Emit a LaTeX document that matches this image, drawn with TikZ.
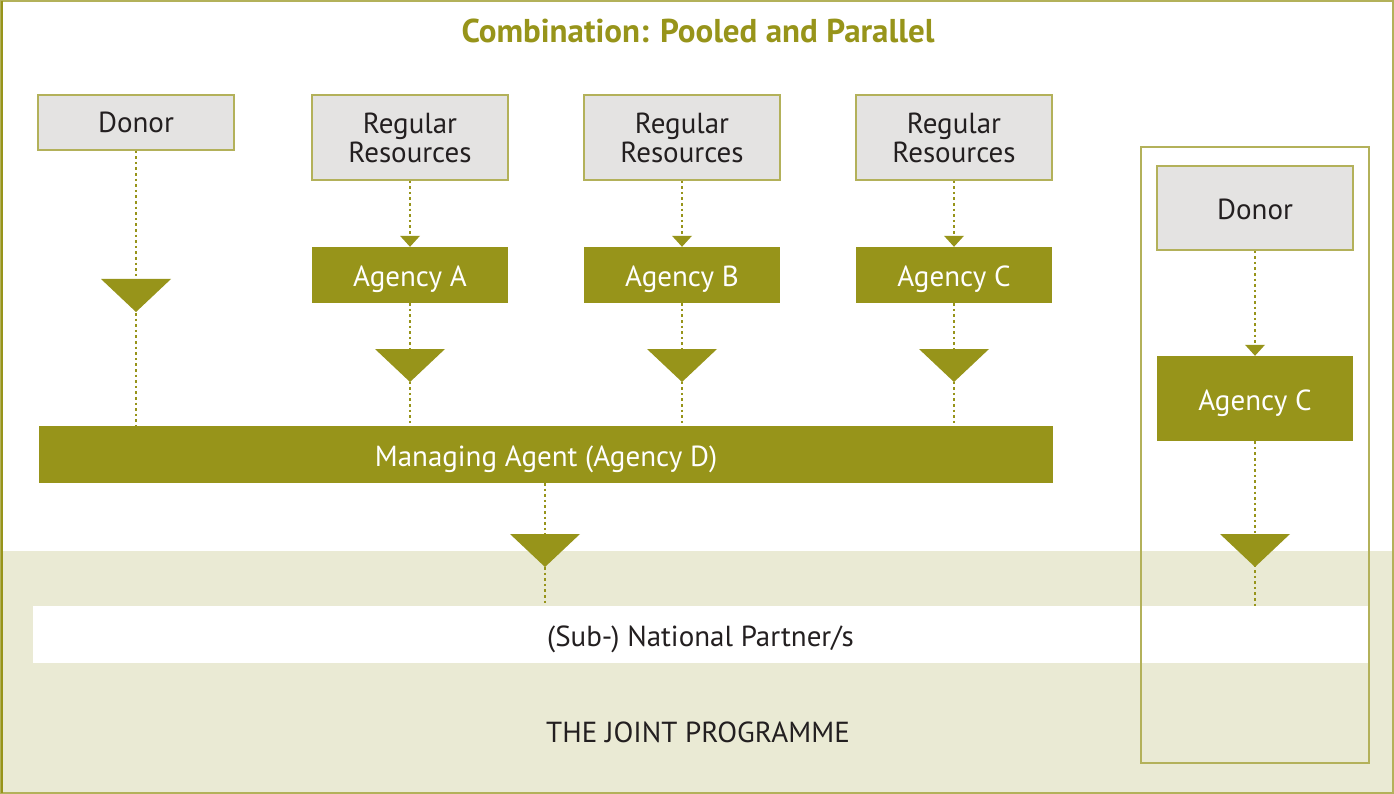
\documentclass[tikz,border=0pt]{standalone}
\usepackage{fontspec}
\setmainfont{PT Sans}
\usetikzlibrary{arrows.meta}
\definecolor{olive}{HTML}{97941A}
\definecolor{oliveline}{HTML}{B3B15A}
\definecolor{greybox}{HTML}{E4E3E2}
\definecolor{beige}{HTML}{EAEAD4}
\definecolor{txt}{HTML}{231F20}
\tikzset{
  bodyfont/.style={font=\fontsize{29}{29}\selectfont},
  oneline/.style={text height=20pt, text depth=0pt},
  lowline/.style={text height=24pt, text depth=0pt},
  greynode/.style={draw=oliveline, line width=1.2pt, fill=greybox, text=txt, inner sep=0pt, bodyfont},
  agencynode/.style={fill=olive, text=white, inner sep=0pt, bodyfont, lowline},
  dotline/.style={draw=olive, line width=2.6pt, line cap=butt, dash pattern=on 2.6pt off 3pt},
}
\begin{document}
\begin{tikzpicture}[x=1pt,y=-1pt]
\useasboundingbox (0,0) rectangle (1394,794);
% background bands
\fill[white] (0,0) rectangle (1394,794);
\fill[beige] (2,551) rectangle (1392,793);
\draw[oliveline, line width=1.5pt] (1,1) rectangle (1393,793);
\draw[olive, line width=1.5pt] (2,1) -- (2,793);
% title
\node[text=olive, font=\fontsize{33}{36}\selectfont\bfseries, text height=23pt, text depth=0pt] (title) at (698,31) {Combination: Pooled and Parallel};
% partner band
\node[fill=white, minimum width=1335, minimum height=57, inner sep=0pt, text=txt, bodyfont, text height=23pt, text depth=0pt] (partner) at (700.5,634.5) {(Sub-) National Partner/s};
\node[text=txt, bodyfont, oneline] (joint) at (698,732) {THE JOINT PROGRAMME};
% right frame
\draw[oliveline, line width=1.5pt] (1141,147) rectangle (1369,763);
% top boxes
\node[greynode, oneline, minimum width=196, minimum height=55] (donor) at (136,122.5) {Donor};
\node[greynode, align=center, minimum width=196, minimum height=85] (rra) at (410,137.5) {Regular\\Resources};
\node[greynode, align=center, minimum width=196, minimum height=85] (rrb) at (682,137.5) {Regular\\Resources};
\node[greynode, align=center, minimum width=196, minimum height=85] (rrc) at (954,137.5) {Regular\\Resources};
\node[agencynode, minimum width=196, minimum height=56] (aga) at (410,275) {Agency A};
\node[agencynode, minimum width=196, minimum height=56] (agb) at (682,275) {Agency B};
\node[agencynode, minimum width=196, minimum height=56] (agc) at (954,275) {Agency C};
\node[agencynode, minimum width=1014, minimum height=57] (mgr) at (546,454.5) {Managing Agent (Agency D)};
% right column
\node[greynode, lowline, minimum width=196, minimum height=84] (rdonor) at (1255,208) {Donor};
\node[agencynode, minimum width=196, minimum height=85] (ragc) at (1255,398.5) {Agency C};
% dotted connectors
\draw[dotline] (donor.south) -- (donor.south |- mgr.north);
\foreach \a/\b in {rra/aga, rrb/agb, rrc/agc}{
  \draw[dotline] (\a.south) -- ([yshift=11pt]\b.north);
  \fill[olive] ([xshift=-10pt,yshift=11pt]\b.north) -- ([xshift=10pt,yshift=11pt]\b.north) -- (\b.north) -- cycle;
  \draw[dotline] (\b.south) -- (\b.south |- mgr.north);
}
\draw[dotline] (rdonor.south) -- ([yshift=11pt]ragc.north);
\fill[olive] ([xshift=-10pt,yshift=11pt]ragc.north) -- ([xshift=10pt,yshift=11pt]ragc.north) -- (ragc.north) -- cycle;
\coordinate (mgrout) at (545,606);
\draw[dotline] (545,483) -- (mgrout);
\coordinate (ragcout) at (1255,606);
\draw[dotline] (ragc.south) -- (ragcout);
% big triangles
\foreach \x/\y in {136/279, 410/349, 682/349, 954/349, 545/534, 1255/534}{
  \fill[olive] (\x-35,\y) -- (\x+35,\y) -- (\x,\y+33) -- cycle;
}
\end{tikzpicture}
\end{document}
